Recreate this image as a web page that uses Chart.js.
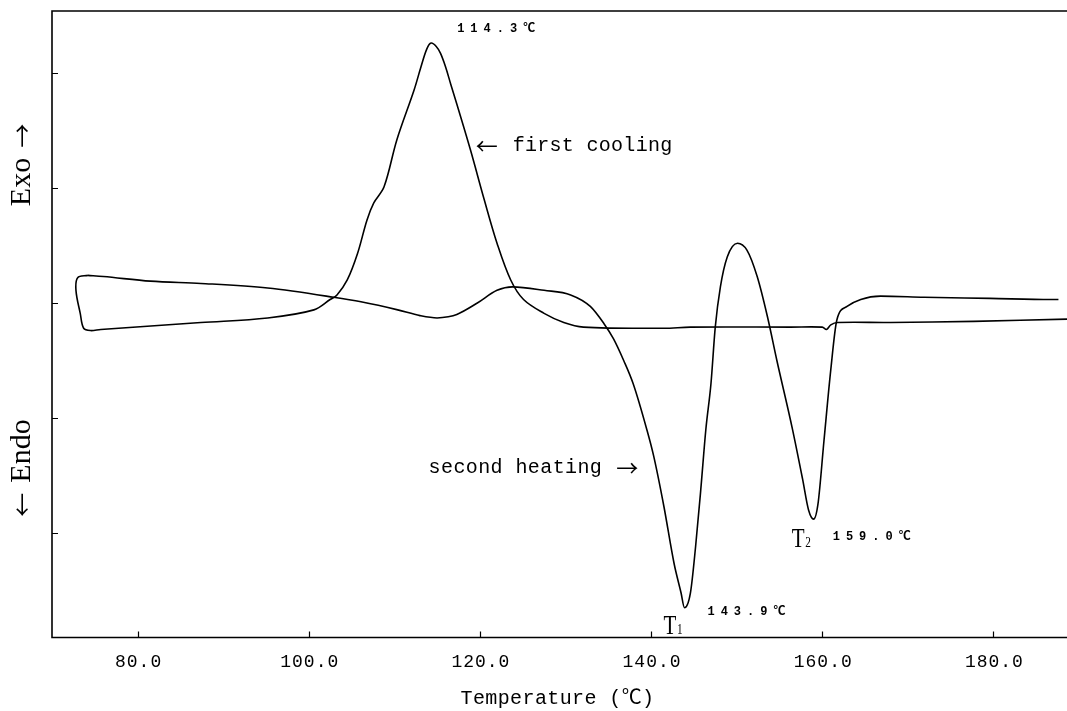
<!DOCTYPE html>
<html>
<head>
<meta charset="utf-8">
<script src="https://cdn.jsdelivr.net/npm/chart.js@4.4.1/dist/chart.umd.min.js"></script>
<style>
  html, body { margin: 0; padding: 0; background: #fff; }
</style>
</head>
<body>
<canvas id="dsc" width="1067" height="711"></canvas>
<script>
// DSC thermogram: first cooling + second heating

// first cooling, recorded from high to low temperature (ends in the loop at the left)
const coolingTemp = [188.6, 177.7, 168.0, 161.8, 161.0, 160.5, 160.0, 156.3, 144.6, 141.5,
  132.1, 129.8, 127.5, 125.1, 123.6, 122.0, 120.5, 118.9, 117.3, 116.6,
  116.0, 115.4, 114.9, 114.3, 113.8, 113.1, 112.3, 110.3, 108.8, 107.6,
  106.8, 105.7, 104.5, 103.3, 102.5, 100.6, 95.2, 87.4, 75.7, 74.5,
  73.7, 73.3, 72.8, 73.0, 74.2];
const coolingHeat = [1.86, 1.84, 1.83, 1.83, 1.81, 1.77, 1.79, 1.79, 1.79, 1.78,
  1.79, 1.83, 1.91, 2.03, 2.20, 2.52, 2.90, 3.33, 3.73, 3.90,
  4.05, 4.17, 4.23, 4.26, 4.21, 4.05, 3.85, 3.42, 3.01, 2.87,
  2.72, 2.43, 2.20, 2.07, 2.03, 1.94, 1.87, 1.83, 1.77, 1.76,
  1.78, 1.91, 2.11, 2.22, 2.24];

// second heating, low to high temperature
const heatingTemp = [74.2, 76.0, 81.5, 87.4, 95.2, 102.9, 106.1, 110.4, 113.0, 115.0,
  116.3, 117.3, 119.7, 122.0, 123.8, 127.5, 130.6, 132.9, 134.5, 135.6,
  136.8, 137.9, 139.5, 140.3, 141.5, 142.7, 143.5, 143.9, 144.6, 145.2,
  145.8, 146.4, 147.0, 147.5, 148.1, 148.9, 150.1, 151.2, 152.4, 153.6,
  154.7, 156.5, 157.7, 158.4, 159.0, 159.5, 160.2, 161.0, 161.7, 162.9,
  164.5, 166.8, 171.9, 179.6, 186.7, 187.6];
const heatingHeat = [2.24, 2.23, 2.19, 2.17, 2.13, 2.05, 2.01, 1.94, 1.89, 1.87,
  1.88, 1.90, 2.00, 2.11, 2.14, 2.11, 2.07, 1.97, 1.82, 1.69,
  1.50, 1.30, 0.90, 0.67, 0.23, -0.27, -0.52, -0.65, -0.52, -0.12,
  0.37, 0.90, 1.30, 1.79, 2.14, 2.40, 2.52, 2.46, 2.23, 1.88,
  1.50, 0.91, 0.47, 0.20, 0.12, 0.25, 0.80, 1.42, 1.85, 1.97,
  2.03, 2.06, 2.05, 2.04, 2.03, 2.03];

// axes
const xTickValues = [80, 100, 120, 140, 160, 180];
const xTickLabels = ["80.0", "100.0", "120.0", "140.0", "160.0", "180.0"];
const yTickValues = [0, 1, 2, 3, 4];

// peaks marked on the plot
const peakCool = { t: 114.3, v: 4.26, label: "114.3℃" };
const peakT1 = { t: 143.9, v: -0.65, label: "143.9℃", name: "1" };
const peakT2 = { t: 159.0, v: 0.12, label: "159.0℃", name: "2" };

const INK = "#000";
const MONO = '"Liberation Mono", "Noto Sans CJK SC", monospace';
const SERIF = '"Liberation Serif", "DejaVu Serif", serif';
const ARROW = '"Noto Sans CJK SC", "DejaVu Sans", sans-serif';

const toPoints = (xs, ys) => xs.map((t, i) => ({ x: t, y: ys[i] }));

function put(ctx, str, x, y, font, align, spacing) {
  ctx.font = font;
  ctx.textAlign = align || "left";
  ctx.textBaseline = "middle";
  ctx.letterSpacing = (spacing || 0) + "px";
  ctx.fillText(str, x, y);
  const w = ctx.measureText(str).width;
  ctx.letterSpacing = "0px";
  return w;
}

// T with subscript, condensed serif
function peakName(ctx, sub, x, baseline) {
  ctx.save();
  ctx.translate(x, baseline);
  ctx.scale(0.75, 1);
  ctx.font = "28px " + SERIF;
  ctx.textAlign = "left";
  ctx.textBaseline = "alphabetic";
  ctx.fillText("T", 0, 0);
  const w = ctx.measureText("T").width;
  ctx.font = "15px " + SERIF;
  ctx.fillText(sub, w + 1, 0);
  ctx.restore();
}

function rotated(ctx, parts, cx, cy) {
  ctx.save();
  ctx.translate(cx, cy);
  ctx.rotate(-Math.PI / 2);
  ctx.textBaseline = "middle";
  ctx.textAlign = "left";
  let total = 0;
  parts.forEach(p => { ctx.font = p.font; p.w = ctx.measureText(p.text).width; total += p.w + (p.gap || 0); });
  let pos = -total / 2;
  parts.forEach(p => { ctx.font = p.font; ctx.fillText(p.text, pos, 0); pos += p.w + (p.gap || 0); });
  ctx.restore();
}

const dscFrame = {
  id: "dscFrame",
  afterDraw(chart) {
    const { ctx, chartArea: a } = chart;
    const x = chart.scales.x, y = chart.scales.y;
    ctx.save();
    ctx.fillStyle = INK;
    ctx.strokeStyle = INK;

    // frame: top, left, bottom (no right border)
    ctx.lineWidth = 1.6;
    ctx.beginPath();
    ctx.moveTo(a.right, a.top);
    ctx.lineTo(a.left, a.top);
    ctx.lineTo(a.left, a.bottom);
    ctx.lineTo(a.right, a.bottom);
    ctx.stroke();

    // inward tick marks
    ctx.lineWidth = 1.2;
    ctx.beginPath();
    xTickValues.forEach(v => {
      const px = Math.round(x.getPixelForValue(v)) + 0.5;
      ctx.moveTo(px, a.bottom);
      ctx.lineTo(px, a.bottom - 6);
    });
    yTickValues.forEach(v => {
      const py = Math.round(y.getPixelForValue(v)) + 0.5;
      ctx.moveTo(a.left, py);
      ctx.lineTo(a.left + 6, py);
    });
    ctx.stroke();

    // x tick labels and title
    xTickValues.forEach((v, i) => {
      put(ctx, xTickLabels[i], x.getPixelForValue(v) + 1, a.bottom + 25, "18px " + MONO, "center", 1);
    });
    put(ctx, "Temperature (℃)", (a.left + a.right) / 2 - 2, a.bottom + 61, "20px " + MONO, "center", 0.4);

    // y axis direction labels
    rotated(ctx, [
      { text: "Exo", font: "30px " + SERIF, gap: 10 },
      { text: "→", font: "24px " + ARROW }
    ], a.left - 30, y.getPixelForValue(3.2));
    rotated(ctx, [
      { text: "←", font: "24px " + ARROW, gap: 10 },
      { text: "Endo", font: "30px " + SERIF }
    ], a.left - 30, y.getPixelForValue(0.565));

    // peak temperatures
    const p0x = x.getPixelForValue(peakCool.t), p0y = y.getPixelForValue(peakCool.v);
    put(ctx, peakCool.label, p0x + 26, p0y - 14, "bold 12px " + MONO, "left", 6);

    const p1x = x.getPixelForValue(peakT1.t), p1y = y.getPixelForValue(peakT1.v);
    put(ctx, peakT1.label, p1x + 23, p1y + 4, "bold 12px " + MONO, "left", 6);
    peakName(ctx, peakT1.name, p1x - 21, p1y + 26);

    const p2x = x.getPixelForValue(peakT2.t), p2y = y.getPixelForValue(peakT2.v);
    put(ctx, peakT2.label, p2x + 19, p2y + 18, "bold 12px " + MONO, "left", 6);
    peakName(ctx, peakT2.name, p2x - 22, p2y + 28);

    // curve notes
    const cx = x.getPixelForValue(119.5), cy = y.getPixelForValue(3.37);
    const aw = put(ctx, "←", cx, cy, "22px " + ARROW, "left", 0);
    put(ctx, "first cooling", cx + aw + 15, cy, "20px " + MONO, "left", 0.3);

    const hx = x.getPixelForValue(138.5), hy = y.getPixelForValue(0.565);
    const bw = put(ctx, "→", hx, hy, "22px " + ARROW, "right", 0);
    put(ctx, "second heating", hx - bw - 14, hy, "20px " + MONO, "right", 0.4);

    ctx.restore();
  }
};

new Chart(document.getElementById("dsc"), {
  type: "scatter",
  data: {
    datasets: [
      {
        label: "first cooling",
        data: toPoints(coolingTemp, coolingHeat),
        showLine: true,
        borderColor: INK,
        borderWidth: 1.6,
        pointRadius: 0,
        tension: 0.35,
        fill: false
      },
      {
        label: "second heating",
        data: toPoints(heatingTemp, heatingHeat),
        showLine: true,
        borderColor: INK,
        borderWidth: 1.6,
        pointRadius: 0,
        cubicInterpolationMode: "monotone",
        fill: false
      }
    ]
  },
  options: {
    responsive: false,
    animation: false,
    devicePixelRatio: 1,
    layout: { padding: { left: 52, top: 11, right: 0, bottom: 73.5 } },
    plugins: { legend: { display: false }, tooltip: { enabled: false } },
    scales: {
      x: { type: "linear", display: false, min: 70, max: 188.6 },
      y: { type: "linear", display: false, min: -0.909, max: 4.539 }
    }
  },
  plugins: [dscFrame]
});
</script>
</body>
</html>
